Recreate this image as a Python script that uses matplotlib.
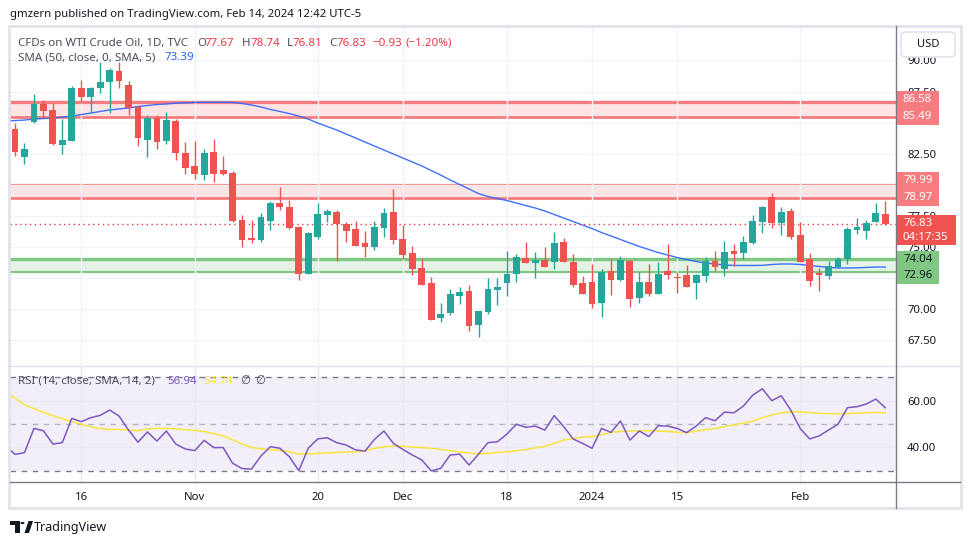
import numpy as np
import matplotlib.pyplot as plt
from matplotlib.patches import Rectangle, FancyBboxPatch, Polygon, Circle
from matplotlib.lines import Line2D
from matplotlib.transforms import blended_transform_factory

plt.rcParams['font.family'] = ['Noto Sans', 'DejaVu Sans']

# daily candles, WTI CFD (Oct 5 2023 .. Feb 14 2024)
opens = [84.49, 82.26, 85.08, 86.50, 86.02, 83.20, 83.55, 87.79, 87.09, 87.79,
         88.29, 89.15, 88.03, 86.28, 83.61, 85.37, 83.55, 85.13, 82.58, 81.52,
         80.82, 82.66, 81.19, 80.93, 77.18, 75.75, 75.59, 77.12, 78.54, 78.19,
         76.61, 72.86, 75.78, 77.55, 77.82, 76.85, 76.45, 75.33, 75.03, 76.56,
         77.82, 75.65, 74.52, 73.32, 72.11, 69.32, 69.72, 71.06, 71.47, 68.73,
         69.78, 71.55, 72.13, 72.86, 74.12, 73.74, 73.96, 73.82, 75.39, 73.80,
         72.11, 72.19, 70.53, 73.07, 72.35, 73.88, 70.93, 72.19, 71.25, 73.07,
         72.59, 72.75, 72.09, 72.67, 73.88, 73.26, 74.68, 74.53, 75.35, 77.02,
         79.05, 76.96, 77.90, 75.97, 74.04, 72.90, 72.67, 73.40, 74.04, 76.37,
         76.32, 77.02, 77.67]
highs = [84.95, 83.34, 87.28, 86.82, 86.56, 85.29, 87.95, 88.43, 87.89, 89.90,
         89.40, 89.90, 88.35, 86.34, 85.61, 85.61, 85.88, 85.27, 83.44, 83.52,
         82.88, 83.69, 82.34, 81.11, 77.58, 77.18, 77.76, 78.70, 79.80, 78.78,
         76.69, 76.23, 78.51, 78.04, 77.98, 77.04, 77.10, 76.29, 77.10, 78.14,
         79.67, 76.77, 75.08, 74.14, 72.59, 70.53, 71.63, 71.79, 71.95, 69.90,
         72.53, 72.50, 74.68, 74.44, 75.41, 74.60, 74.98, 76.19, 75.69, 74.44,
         72.67, 73.64, 73.23, 74.04, 74.28, 73.96, 72.99, 73.64, 73.80, 75.24,
         72.99, 73.56, 72.80, 74.20, 74.68, 75.49, 75.24, 75.89, 77.58, 78.32,
         79.32, 78.25, 78.11, 77.01, 74.55, 73.34, 73.88, 74.20, 76.61, 77.34,
         77.18, 78.54, 78.74]
lows = [82.34, 81.70, 84.95, 85.35, 83.20, 82.50, 83.50, 86.56, 85.77, 87.41,
        85.75, 87.76, 85.61, 83.15, 82.26, 82.88, 83.28, 82.00, 80.87, 80.47,
        80.41, 80.25, 80.82, 77.05, 75.03, 75.35, 75.43, 76.37, 77.98, 76.43,
        72.33, 72.83, 75.62, 77.04, 73.90, 75.43, 75.08, 74.22, 74.76, 75.83,
        75.22, 74.04, 72.78, 71.95, 69.10, 68.98, 69.54, 70.42, 68.28, 67.79,
        69.62, 70.34, 71.06, 72.19, 73.70, 72.53, 73.40, 73.23, 73.80, 71.81,
        71.20, 70.13, 69.40, 71.17, 72.30, 70.21, 70.53, 71.09, 71.20, 72.46,
        71.33, 71.80, 70.80, 72.22, 73.10, 72.67, 73.50, 74.06, 75.27, 76.15,
        76.56, 76.00, 75.67, 73.80, 71.87, 71.47, 72.43, 73.30, 73.64, 76.07,
        75.67, 77.00, 76.81]
closes = [82.62, 82.88, 86.48, 85.96, 83.28, 83.61, 87.79, 87.09, 87.79, 88.27,
          89.23, 88.37, 86.15, 83.73, 85.37, 83.47, 85.21, 82.60, 81.38, 80.90,
          82.58, 80.90, 80.90, 77.12, 75.59, 75.59, 77.44, 78.57, 78.19, 76.56,
          72.86, 76.10, 77.63, 77.90, 76.83, 76.32, 75.11, 75.03, 76.61, 77.74,
          75.57, 74.39, 73.26, 71.97, 69.14, 69.62, 71.22, 71.39, 68.65, 69.86,
          71.63, 71.79, 72.83, 74.18, 73.74, 73.96, 73.42, 75.33, 73.82, 71.97,
          71.25, 70.45, 72.99, 72.37, 73.96, 70.85, 72.19, 71.25, 72.83, 72.78,
          72.53, 71.81, 72.75, 73.88, 73.42, 74.60, 74.47, 75.41, 77.10, 78.22,
          76.96, 77.82, 75.83, 73.82, 72.30, 72.75, 73.48, 74.04, 76.45, 76.61,
          76.93, 77.76, 76.83]

# indicator series start one bar before the first candle (partly off-screen)
sma50 = [85.13,
         85.17, 85.21, 85.29, 85.33, 85.37, 85.45, 85.53, 85.65, 85.77, 85.90,
         86.02, 86.10, 86.18, 86.30, 86.38, 86.46, 86.50, 86.56, 86.60, 86.63,
         86.64, 86.64, 86.64, 86.63, 86.54, 86.42, 86.26, 86.06, 85.90, 85.73,
         85.53, 85.29, 84.97, 84.69, 84.41, 84.09, 83.77, 83.44, 83.12, 82.80,
         82.48, 82.16, 81.84, 81.52, 81.15, 80.79, 80.39, 80.03, 79.67, 79.30,
         79.06, 78.90, 78.74, 78.54, 78.34, 78.14, 77.90, 77.62, 77.33, 77.05,
         76.77, 76.49, 76.17, 75.89, 75.61, 75.33, 75.05, 74.80, 74.56, 74.36,
         74.16, 74.00, 73.84, 73.72, 73.64, 73.56, 73.52, 73.52, 73.52, 73.53,
         73.60, 73.64, 73.64, 73.60, 73.52, 73.44, 73.37, 73.32, 73.32, 73.33,
         73.36, 73.40, 73.39]
rsi = [40.6,
       37.0, 37.7, 48.1, 47.1, 41.4, 42.0, 52.4, 51.0, 52.7, 53.7,
       56.0, 53.4, 47.4, 42.2, 46.6, 42.7, 47.0, 41.4, 39.3, 38.6,
       43.0, 39.9, 39.9, 33.2, 30.9, 30.7, 36.3, 40.3, 39.6, 36.0,
       30.0, 39.6, 43.6, 44.1, 42.0, 41.0, 38.9, 38.4, 43.4, 47.0,
       41.7, 39.1, 36.7, 34.6, 29.9, 31.0, 36.7, 37.1, 32.4, 37.1,
       42.0, 42.4, 45.7, 49.9, 48.6, 49.1, 47.4, 53.6, 48.9, 43.6,
       41.7, 39.6, 48.1, 46.4, 51.3, 43.1, 47.0, 44.6, 49.3, 49.1,
       48.1, 46.3, 49.1, 52.7, 51.4, 55.1, 54.8, 57.7, 62.4, 65.1,
       60.0, 62.1, 56.0, 48.1, 43.6, 44.9, 47.4, 49.9, 57.0, 57.4,
       58.6, 60.7, 56.94]
rsi_ma = [63.5,
          61.0, 58.3, 56.6, 55.0, 53.6, 52.2, 51.0, 49.9, 48.8, 48.0,
          47.7, 47.7, 47.4, 47.1, 47.9, 48.1, 48.1, 47.9, 47.6, 47.2,
          46.8, 45.9, 44.9, 43.2, 41.5, 39.9, 39.4, 39.0, 38.7, 38.1,
          37.1, 37.2, 37.4, 37.6, 37.8, 38.0, 38.1, 38.5, 39.6, 40.2,
          40.6, 40.4, 40.1, 39.9, 39.6, 39.1, 38.6, 38.1, 37.6, 37.2,
          37.4, 37.8, 38.1, 38.6, 39.0, 39.8, 40.4, 41.7, 43.1, 43.8,
          44.4, 44.6, 45.4, 46.4, 46.8, 47.0, 47.1, 47.1, 47.0, 46.8,
          46.5, 46.3, 46.9, 47.6, 48.0, 48.9, 49.6, 50.4, 51.2, 52.7,
          53.9, 54.8, 55.2, 55.2, 54.9, 54.6, 54.5, 54.3, 54.4, 54.7,
          54.8, 55.0, 54.74]

tick_idx = [7, 19, 32, 41, 52, 61, 70, 83]
tick_labels = ['16', 'Nov', '20', 'Dec', '18', '2024', '15', 'Feb']
price_ticks = [67.5, 70.0, 72.5, 75.0, 77.5, 80.0, 82.5, 85.0, 87.5, 90.0]
resist_zones = [(85.49, 86.58), (78.97, 79.99)]
support_zone = (72.96, 74.04)
countdown = '04:17:35'

GREEN = '#26A69A'
RED = '#EF5350'
W, H = 970, 545


def fbox(x0, y0, x1, y1):
    return [x0 / W, 1 - y1 / H, (x1 - x0) / W, (y1 - y0) / H]


fig = plt.figure(figsize=(W / 100, H / 100), dpi=100)
fig.patch.set_facecolor('white')

ax = fig.add_axes(fbox(10, 26, 896, 365))
ar = fig.add_axes(fbox(10, 366, 896, 482))

o = np.array(opens)
c = np.array(closes)
x = np.arange(len(o))
xi = np.arange(-1, len(o))
cols = [GREEN if cc >= oo else RED for oo, cc in zip(o, c)]

# zones
for lo, hi in resist_zones:
    ax.axhspan(lo, hi, color='#F23645', alpha=0.13, lw=0, zorder=1)
    ax.axhline(lo, color='#F77C80', lw=2, zorder=1.5)
    ax.axhline(hi, color='#F77C80', lw=1.6, zorder=1.5)
ax.axhline(resist_zones[0][1] + 0.16, color='#F77C80', lw=1, zorder=1.5)
ax.axhspan(*support_zone, color='#4CAF50', alpha=0.14, lw=0, zorder=1)
ax.axhline(support_zone[0], color='#81C784', lw=1.6, zorder=1.5)
ax.axhline(support_zone[1], color='#81C784', lw=2.4, zorder=1.5)

ax.plot(xi, sma50, color='#2962FF', lw=1.0, alpha=0.9, zorder=2)

ax.vlines(x, lows, highs, colors=cols, lw=1, zorder=3)
ax.bar(x, np.maximum(np.abs(c - o), 0.07), bottom=np.minimum(o, c),
       width=0.72, color=cols, lw=0, zorder=3)
ax.axhline(closes[-1], color='#F23645', lw=1, ls=(0, (1, 2.5)), zorder=2.5)

# axis-label boxes (price ranges), used to hide tick labels sitting underneath
pair_boxes = [(lo - 0.68, lo + 2.04) for lo, hi in resist_zones]
sup_center = support_zone[1] - 1.36
pair_boxes.append((sup_center - 0.68, sup_center + 2.04))
last = closes[-1]
last_box = (last - 1.7, last + 0.75)
covered = pair_boxes + [last_box]


def hidden(v):
    return any(b0 - 0.1 <= v <= b1 - 0.1 for b0, b1 in covered)


ax.set_xlim(-0.53, 93.13)
ax.set_ylim(65.52, 92.77)
ax.set_yticks(price_ticks)
ax.set_yticklabels(['' if hidden(v) else f'{v:.2f}' for v in price_ticks])
ax.yaxis.tick_right()
ax.set_xticks(tick_idx)
ax.set_xticklabels([])
ax.tick_params(axis='y', length=0, pad=8, labelsize=8.2, labelcolor='#131722')
ax.tick_params(axis='x', length=0)
ax.grid(color='#F0F3FA', lw=1, zorder=0)
for s in ax.spines.values():
    s.set_visible(False)

# RSI pane
ar.axhspan(30, 70, color='#7E57C2', alpha=0.09, lw=0, zorder=0.5)
ar.axhline(70, color='#787B86', lw=1, ls=(0, (4, 4)))
ar.axhline(50, color='#B2B5BE', lw=1, ls=(0, (4, 4)))
ar.axhline(30, color='#787B86', lw=1, ls=(0, (4, 4)))
ar.plot(xi, rsi_ma, color='#F7E53B', lw=1.1, zorder=2)
ar.plot(xi, rsi, color='#7E57C2', lw=1.1, zorder=3)
ar.set_xlim(-0.53, 93.13)
ar.set_ylim(25.14, 74.86)
ar.set_yticks([40, 60])
ar.set_yticklabels(['40.00', '60.00'])
ar.yaxis.tick_right()
ar.set_xticks(tick_idx)
ar.set_xticklabels(tick_labels)
ar.get_xticklabels()[tick_labels.index('2024')].set_fontweight('bold')
ar.tick_params(axis='y', length=0, pad=8, labelsize=8.2, labelcolor='#131722')
ar.tick_params(axis='x', length=0, pad=7, labelsize=8.2, labelcolor='#131722')
ar.grid(color='#E9E9F2', lw=1, zorder=0)
for s in ar.spines.values():
    s.set_visible(False)

# frame and axis lines
fig.add_artist(Rectangle((9 / W, 1 - 508 / H), 952 / W, 482 / H, transform=fig.transFigure,
                         fill=False, ec='#E0E3EB', lw=2))
fig.add_artist(Line2D([10 / W, 960 / W], [1 - 365.5 / H] * 2, color='#E0E3EB', lw=1))
fig.add_artist(Line2D([10 / W, 960 / W], [1 - 482 / H] * 2, color='#787B86', lw=1))
fig.add_artist(Line2D([896 / W] * 2, [1 - 26 / H, 1 - 508 / H], color='#787B86', lw=1))

# USD box
fig.add_artist(FancyBboxPatch((901 / W, 1 - 57 / H), 54 / W, 25 / H,
                              boxstyle='round,pad=0,rounding_size=0.006',
                              transform=fig.transFigure, fc='white', ec='#E0E3EB', lw=1.2))
fig.text(928 / W, 1 - 44.5 / H, 'USD', ha='center', va='center', fontsize=8, color='#131722')

# price axis labels for zones / last price
tr = blended_transform_factory(fig.transFigure, ax.transData)


def pair_label(box, texts, fc, tc):
    b0, b1 = box
    fig.add_artist(Rectangle((896.5 / W, b0), 42.5 / W, b1 - b0,
                             transform=tr, fc=fc, ec='none'))
    fig.text(903 / W, b0 + 0.68 + 1.36, texts[0], transform=tr, ha='left', va='center',
             fontsize=8.2, color=tc)
    fig.text(903 / W, b0 + 0.68, texts[1], transform=tr, ha='left', va='center',
             fontsize=8.2, color=tc)


for (lo, hi), box in zip(resist_zones, pair_boxes[:2]):
    pair_label(box, (f'{hi:.2f}', f'{lo:.2f}'), '#F77C80', 'white')
pair_label(pair_boxes[2], (f'{support_zone[1]:.2f}', f'{support_zone[0]:.2f}'),
           '#81C784', '#131722')

fig.add_artist(Rectangle((896.5 / W, last_box[0]), 59.5 / W, last_box[1] - last_box[0],
                         transform=tr, fc='#F05350', ec='none'))
fig.text(903 / W, last + 0.08, f'{last:.2f}', transform=tr, ha='left', va='center',
         fontsize=8.2, color='white')
fig.text(903 / W, last - 1.1, countdown, transform=tr, ha='left', va='center',
         fontsize=8.2, color='white')

# header and legends
fig.text(10 / W, 1 - 15 / H, 'gmzern published on TradingView.com, Feb 14, 2024 12:42 UTC-5',
         fontsize=8.2, color='#131722', va='center')
ly = 1 - 43 / H
fig.text(18 / W, ly, 'CFDs on WTI Crude Oil, 1D, TVC', fontsize=8.3, color='#4A4E5A', va='center')
chg = closes[-1] - closes[-2]
parts = [(197, 'O', '#4A4E5A'), (205, f'{opens[-1]:.2f}', '#F23645'),
         (242, 'H', '#4A4E5A'), (251, f'{highs[-1]:.2f}', '#F23645'),
         (287, 'L', '#4A4E5A'), (293, f'{lows[-1]:.2f}', '#F23645'),
         (329, 'C', '#4A4E5A'), (337, f'{closes[-1]:.2f}', '#F23645'),
         (372, f'\u2212{abs(chg):.2f}', '#F23645'),
         (406, f'(\u2212{abs(chg) / closes[-2] * 100:.2f}%)', '#F23645')]
for px, s, col in parts:
    fig.text(px / W, ly, s, fontsize=8.3, color=col, va='center')

fig.text(18 / W, 1 - 58 / H, 'SMA (50, close, 0, SMA, 5)', fontsize=8.3, color='#4A4E5A', va='center')
fig.text(165 / W, 1 - 58 / H, f'{sma50[-1]:.2f}', fontsize=8.3, color='#2962FF', va='center')

ry = 1 - 381 / H
fig.text(18 / W, ry, 'RSI (14, close, SMA, 14, 2)', fontsize=8.3, color='#4A4E5A', va='center')
fig.text(167 / W, ry, f'{rsi[-1]:.2f}', fontsize=8.3, color='#7E57C2', va='center')
fig.text(203 / W, ry, f'{rsi_ma[-1]:.2f}', fontsize=8.3, color='#F7E53B', va='center')
fig.text(240 / W, ry, '\u2205', fontsize=8.3, color='#4A4E5A', va='center')
fig.text(255 / W, ry, '\u2205', fontsize=8.3, color='#4A4E5A', va='center')


# TradingView logo
def fp(px, py):
    return (px / W, 1 - py / H)


fig.add_artist(Polygon([fp(10, 521), fp(19.5, 521), fp(19.5, 533), fp(15.5, 533),
                        fp(15.5, 525), fp(10, 525)], closed=True,
                       transform=fig.transFigure, fc='#131722', ec='none'))
fig.add_artist(Circle(fp(22.5, 523), 2 / W, transform=fig.transFigure, fc='#131722', ec='none'))
fig.add_artist(Polygon([fp(24.5, 533), fp(28.5, 521), fp(33, 521), fp(29, 533)], closed=True,
                       transform=fig.transFigure, fc='#131722', ec='none'))
fig.text(34 / W, 1 - 527 / H, 'TradingView', fontsize=9, color='#131722', va='center')

fig.savefig('out.png', dpi=100)
